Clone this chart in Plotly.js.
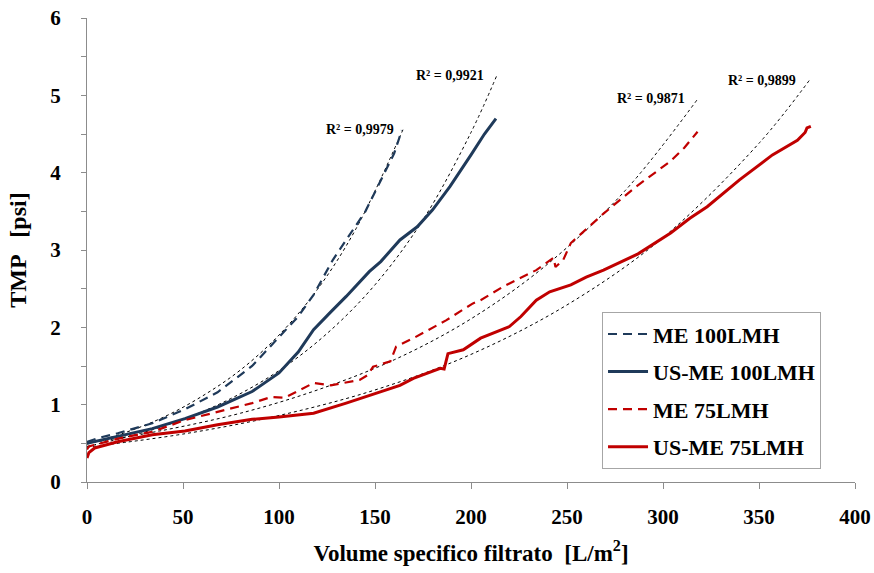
<!DOCTYPE html>
<html>
<head>
<meta charset="utf-8">
<script src="https://cdn.plot.ly/plotly-3.0.1.min.js"></script>
<style>html,body{margin:0;padding:0;background:#fff;}#chart{width:874px;height:573px;}</style>
</head>
<body>
<div id="chart"></div>
<script>
// ---- data ----
const me100_x = [0, 6, 16, 34, 51, 68, 86, 100, 110, 118, 128, 135, 145, 153, 160, 164];
const me100_y = [0.52, 0.57, 0.63, 0.76, 0.94, 1.16, 1.50, 1.88, 2.14, 2.42, 2.87, 3.13, 3.50, 3.90, 4.25, 4.55];

const usme100_x = [0, 16, 34, 51, 68, 86, 100, 110, 118, 127, 135, 147, 153, 163, 172, 180, 189, 200, 207, 213];
const usme100_y = [0.50, 0.59, 0.69, 0.82, 0.97, 1.17, 1.41, 1.68, 1.97, 2.20, 2.40, 2.72, 2.85, 3.13, 3.30, 3.52, 3.82, 4.23, 4.50, 4.70];

const me75_x = [0, 1, 16, 34, 51, 68, 86, 96, 103, 118, 127, 142, 146, 149, 158, 161, 170, 187, 201, 205, 217, 234, 241, 243, 244, 248, 252, 269, 286, 304, 311, 318];
const me75_y = [0.42, 0.46, 0.56, 0.65, 0.80, 0.91, 1.02, 1.10, 1.09, 1.28, 1.25, 1.32, 1.38, 1.49, 1.56, 1.75, 1.86, 2.09, 2.31, 2.35, 2.53, 2.74, 2.87, 2.90, 2.78, 2.87, 3.09, 3.47, 3.82, 4.15, 4.32, 4.53];

const usme75_x = [0, 1, 4, 16, 34, 51, 68, 86, 100, 118, 135, 153, 163, 170, 184, 186, 188, 196, 205, 220, 226, 234, 241, 252, 260, 269, 287, 304, 314, 323, 340, 357, 370, 374, 375, 377];
const usme75_y = [0.31, 0.38, 0.44, 0.52, 0.61, 0.66, 0.74, 0.81, 0.84, 0.89, 1.02, 1.17, 1.25, 1.34, 1.47, 1.46, 1.66, 1.71, 1.86, 2.01, 2.14, 2.35, 2.46, 2.55, 2.65, 2.74, 2.95, 3.22, 3.41, 3.56, 3.91, 4.23, 4.42, 4.52, 4.58, 4.60];

// trendlines (dotted black)
const fitMe100_x = [0, 20, 40, 60, 80, 100, 120, 140, 165];
const fitMe100_y = [0.49, 0.64, 0.84, 1.11, 1.45, 1.90, 2.49, 3.27, 4.58];
const fitUsme100_x = [0, 25, 50, 75, 100, 125, 150, 175, 200, 213.5];
const fitUsme100_y = [0.46, 0.61, 0.81, 1.08, 1.44, 1.92, 2.55, 3.39, 4.52, 5.26];
const fitMe75_x = [0, 40, 80, 120, 160, 200, 240, 280, 318];
const fitMe75_y = [0.50, 0.67, 0.89, 1.19, 1.58, 2.11, 2.82, 3.76, 4.95];
const fitUsme75_x = [0, 50, 100, 150, 200, 250, 300, 350, 377];
const fitUsme75_y = [0.45, 0.62, 0.86, 1.19, 1.65, 2.29, 3.16, 4.38, 5.22];

const seriesNames = ['ME 100LMH', 'US-ME 100LMH', 'ME 75LMH', 'US-ME 75LMH'];
const r2Labels = ['R² = 0,9979', 'R² = 0,9921', 'R² = 0,9871', 'R² = 0,9899'];
const r2X = [142, 189, 294, 351.5];
const r2Y = [4.56, 5.26, 4.96, 5.19];

const navy = '#1F3A5A';
const red = '#C00000';
const serif = '"Liberation Serif", "Times New Roman", serif';

function fit(x, y) {
  return {x: x, y: y, mode: 'lines', type: 'scatter', showlegend: false, hoverinfo: 'skip',
          line: {color: '#000', width: 1, dash: 'dot', shape: 'spline'}};
}

const traces = [
  fit(fitMe100_x, fitMe100_y),
  fit(fitUsme100_x, fitUsme100_y),
  fit(fitMe75_x, fitMe75_y),
  fit(fitUsme75_x, fitUsme75_y),
  {x: me100_x, y: me100_y, name: seriesNames[0], legendgroup: 'a', mode: 'lines', type: 'scatter',
   line: {color: navy, width: 2.2, dash: '9px,6px'}},
  {x: usme100_x, y: usme100_y, name: seriesNames[1], legendgroup: 'b', mode: 'lines', type: 'scatter',
   line: {color: navy, width: 3}},
  {x: me75_x, y: me75_y, name: seriesNames[2], legendgroup: 'c', mode: 'lines', type: 'scatter',
   line: {color: red, width: 2.2, dash: '9px,6px'}},
  {x: usme75_x, y: usme75_y, name: seriesNames[3], legendgroup: 'd', mode: 'lines', type: 'scatter',
   line: {color: red, width: 3}}
];

const annotations = r2Labels.map((t, i) => ({
  x: r2X[i], y: r2Y[i], xref: 'x', yref: 'y', text: t, showarrow: false,
  font: {family: serif, size: 14, color: '#000', weight: 'bold'}
}));

const layout = {
  width: 874, height: 573,
  margin: {l: 87, r: 19, t: 18, b: 91},
  paper_bgcolor: '#fff', plot_bgcolor: '#fff',
  showlegend: true,
  legend: {
    x: 0.6706, y: 0.366, xanchor: 'left', yanchor: 'top',
    bordercolor: '#A6A6A6', borderwidth: 1, bgcolor: '#fff',
    font: {family: serif, size: 22, color: '#000', weight: 'bold'},
    tracegroupgap: 6, traceorder: 'grouped', itemwidth: 40
  },
  xaxis: {
    range: [0, 400], dtick: 50, tick0: 0,
    showgrid: false, zeroline: false,
    showline: true, linecolor: '#8C8C8C', linewidth: 1,
    ticks: 'outside', ticklen: 6, tickcolor: '#8C8C8C',
    ticklabelstandoff: 10,
    tickfont: {family: serif, size: 21, color: '#000', weight: 'bold'},
    title: {text: 'Volume specifico filtrato  [L/m<sup>2</sup>]', standoff: 16,
            font: {family: serif, size: 23, color: '#000', weight: 'bold'}}
  },
  yaxis: {
    range: [0, 6], dtick: 1, tick0: 0,
    showgrid: false, zeroline: false,
    showline: true, linecolor: '#8C8C8C', linewidth: 1,
    ticks: 'outside', ticklen: 5, tickcolor: '#8C8C8C',
    minor: {dtick: 0.5, ticks: 'outside', ticklen: 5, tickcolor: '#8C8C8C', showgrid: false},
    ticklabelstandoff: 16,
    tickfont: {family: serif, size: 21, color: '#000', weight: 'bold'},
    title: {text: 'TMP   [psi]', standoff: 16,
            font: {family: serif, size: 24, color: '#000', weight: 'bold'}}
  },
  annotations: annotations
};

Plotly.newPlot('chart', traces, layout, {displayModeBar: false, staticPlot: true});
</script>
</body>
</html>
